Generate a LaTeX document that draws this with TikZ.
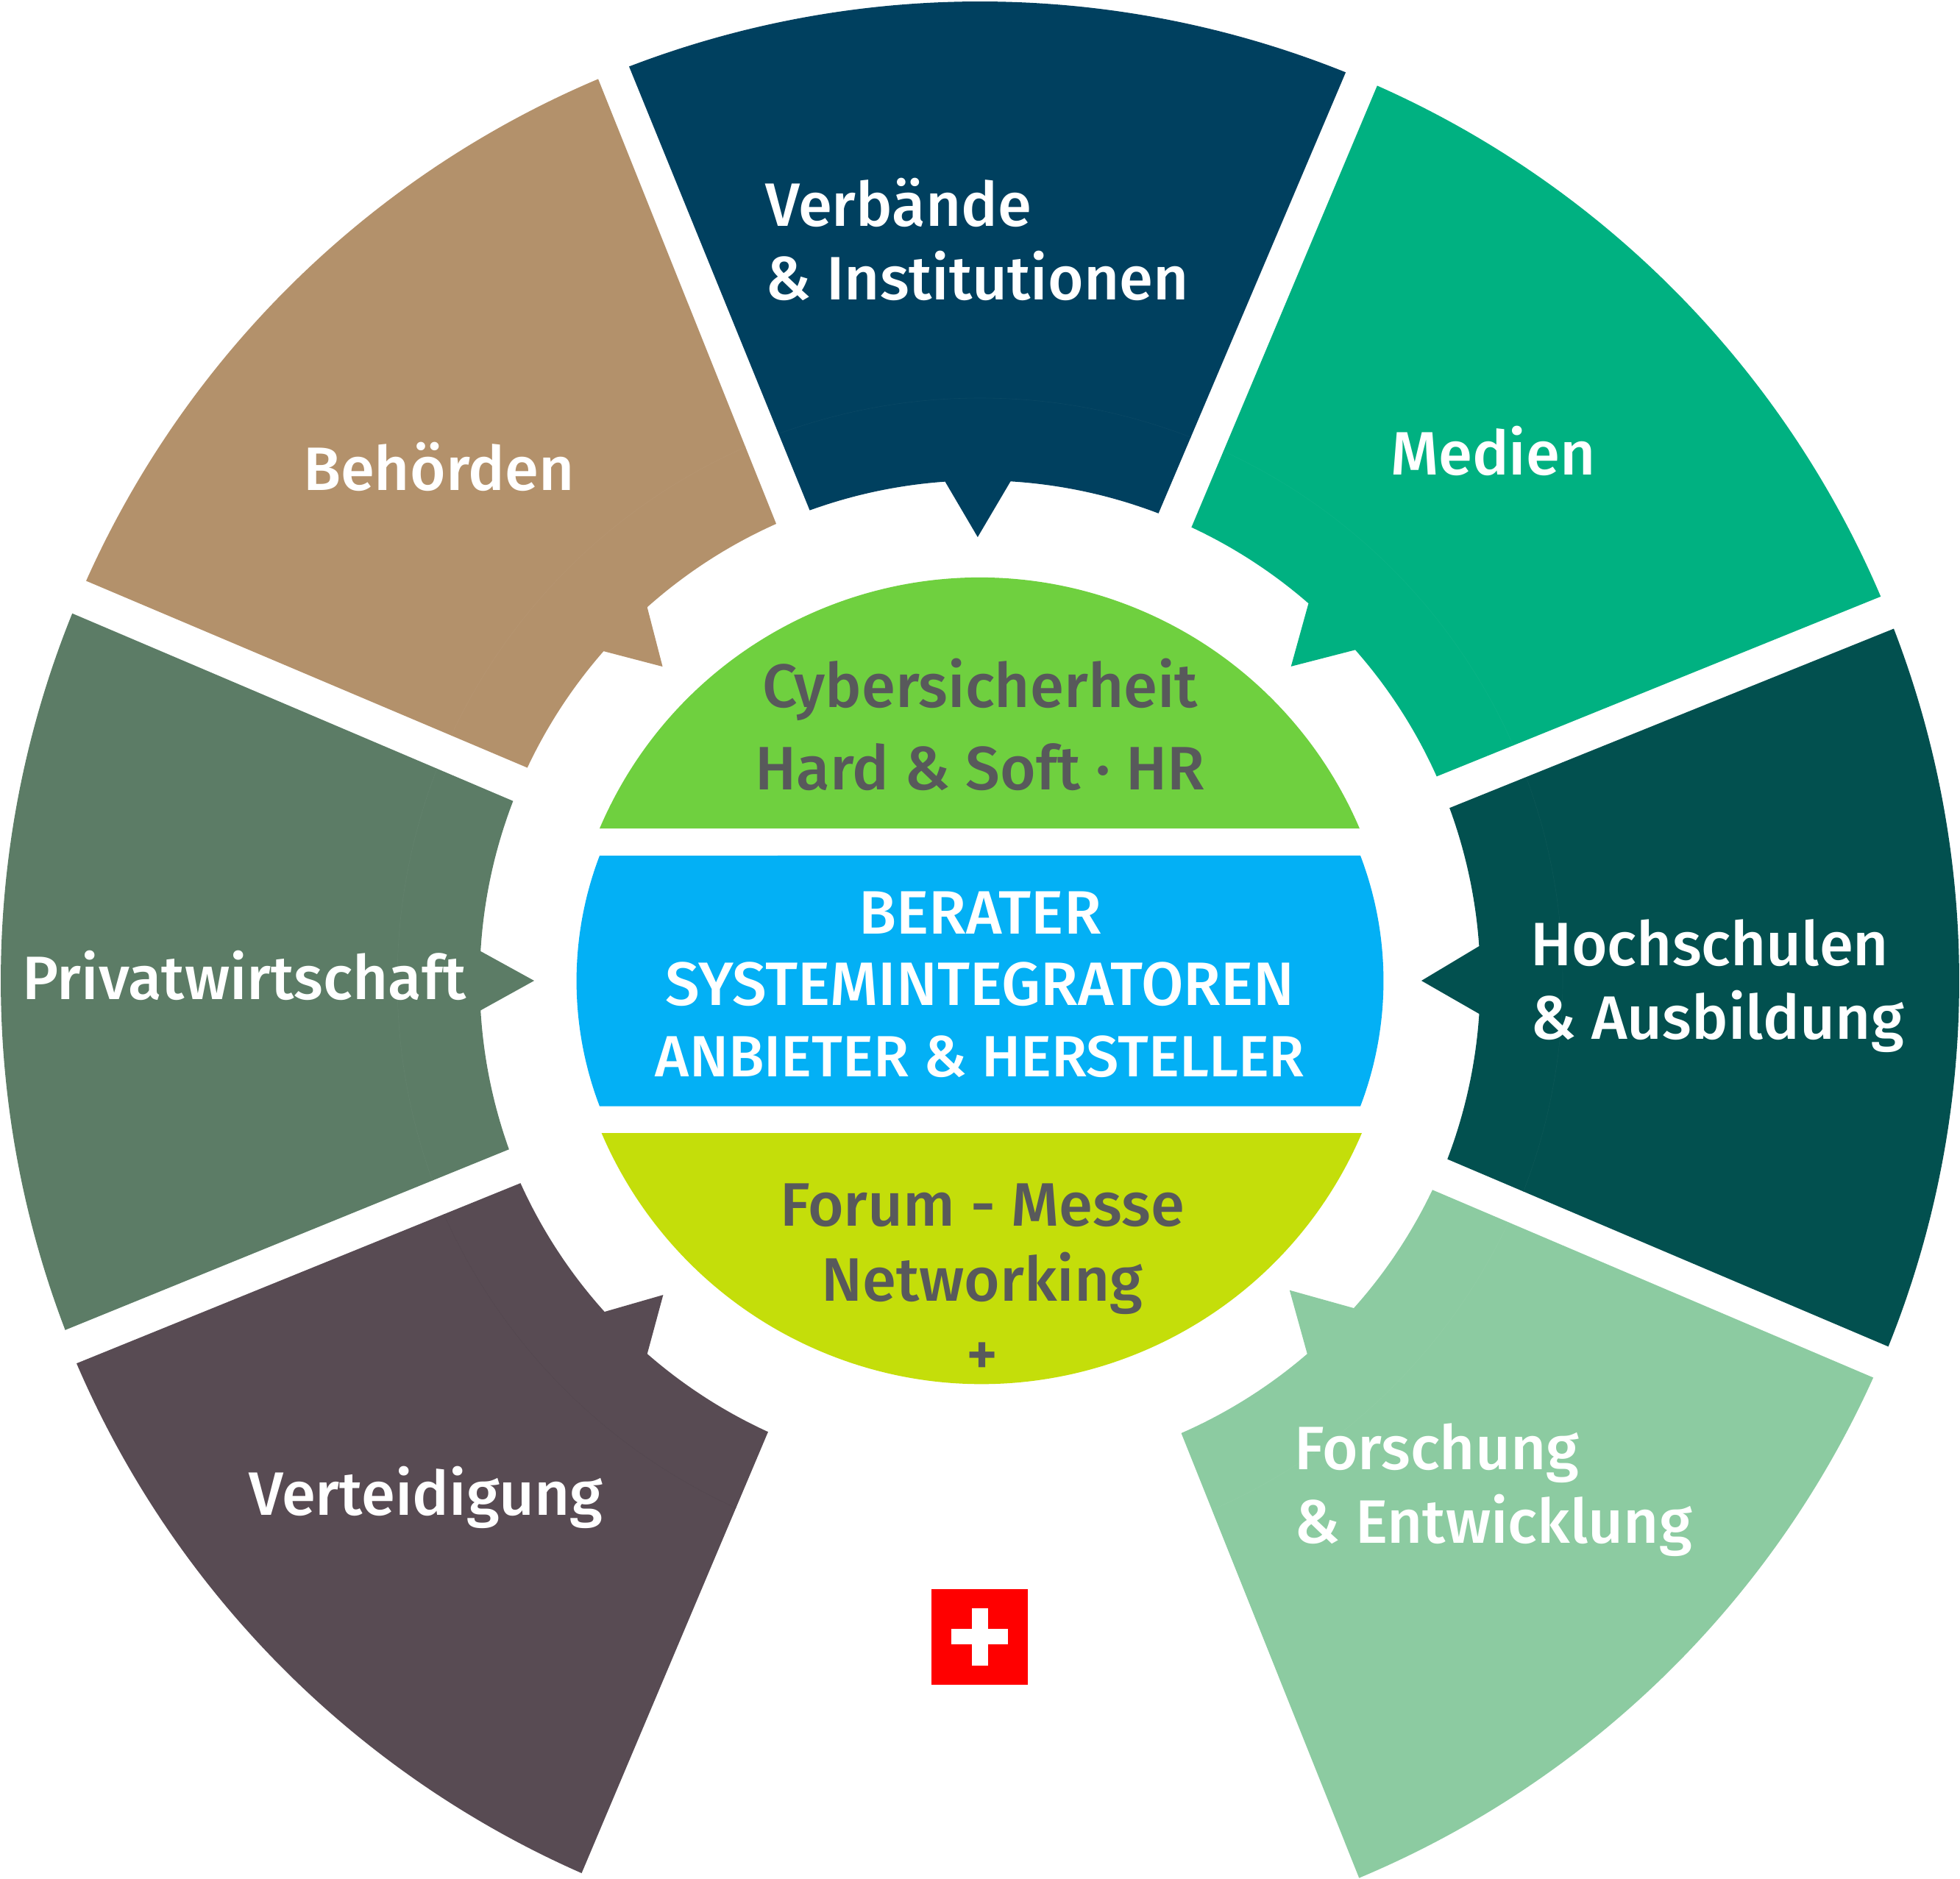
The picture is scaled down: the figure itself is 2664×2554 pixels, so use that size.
\documentclass[tikz,border=0pt]{standalone}
\usepackage{fontspec}
\setmainfont{Fira Sans Medium}
\definecolor{navy}{HTML}{00405F}
\definecolor{tealg}{HTML}{00B181}
\definecolor{tan}{HTML}{B3916B}
\definecolor{sage}{HTML}{5C7C66}
\definecolor{dteal}{HTML}{02504F}
\definecolor{mint}{HTML}{8CCBA1}
\definecolor{plum}{HTML}{584B53}
\definecolor{lgreen}{HTML}{6FD03F}
\definecolor{lyellow}{HTML}{C4DE0A}
\definecolor{sky}{HTML}{03B0F5}
\definecolor{tgrey}{HTML}{58595B}
\tikzset{
  wlabel/.style={anchor=base west,inner sep=0pt,text=white,align=left,font=\fontsize{83.3}{100}\selectfont},
  glabel/.style={anchor=base,inner sep=0pt,text=tgrey,font=\fontsize{83.4}{100}\selectfont},
  blabel/.style={anchor=base,inner sep=0pt,text=white,font=\fontsize{83.3}{98}\selectfont}
}
\def\arctint{white}
% colour, a1, a2, i1, i2, n1, n2, tip angle, tip radius
\newcommand\sectshape[9]{%
  \def\sectpath{(#2:1331) arc[start angle=#2,end angle=#3,radius=1331]
    -- (#5:680) arc[start angle=#5,end angle=#7,radius=680]
    -- (#8:#9) -- (#6:680) arc[start angle=#6,end angle=#4,radius=680] -- cycle}
  \fill[#1] \sectpath;
  \begin{scope}
    \clip \sectpath;
    \draw[#1!96!\arctint,line width=0.6pt] (0,0) circle[radius=792];
  \end{scope}}
\begin{document}
\begin{tikzpicture}[x=1pt,y=1pt]
\useasboundingbox (0,0) rectangle (2664,-2554);
\begin{scope}[shift={(1332,-1333)}]
  \sectshape{navy}{111.0}{68.07}{109.9}{69.1}{94}{86.5}{90.3}{603}
  \sectshape{tan}{155.9}{112.95}{154.8}{114.04}{138.8}{131.7}{135.3}{607}
  \sectshape{tealg}{66.07}{23.1}{65}{24.1}{48.96}{41.4}{45.3}{601}
  \sectshape{dteal}{21.07}{-21.94}{20.2}{-20.9}{3.96}{-3.8}{0}{600}
  \sectshape{sage}{200.9}{157.97}{199.7}{158.95}{183.4}{176.62}{180}{606}
\end{scope}
\begin{scope}[shift={(1333,-1325)}]
  \sectshape{mint}{-24.29}{-67.27}{-25.46}{-66.37}{-41.78}{-49.26}{-45.6}{600}
\end{scope}
\begin{scope}[shift={(1327,-1328)}]
  \def\arctint{black}
  \sectshape{plum}{246.23}{203.24}{245.4}{204.33}{228.87}{222.0}{225.43}{606.5}
\end{scope}
% centre pieces
\fill[lgreen] (815,-1126) arc[start angle=156.87,end angle=23.13,radius=561.6] -- cycle;
\fill[sky] (815,-1163) arc[start angle=159.1,end angle=200.9,radius=477.5] -- (1849,-1503.6)
   arc[start angle=-20.9,end angle=20.9,radius=477.5] -- cycle;
\fill[lyellow] (1851,-1540) arc[start angle=-23.13,end angle=-156.87,radius=561.9] -- cycle;
% flag
\fill[red] (1266,-2160) rectangle (1397,-2290);
\fill[white] (1321,-2186) rectangle (1343,-2263.5);
\fill[white] (1293,-2213.5) rectangle (1370,-2235);
% labels
\node[wlabel] (verb) at (1040,-407) {Verbände\\\& Institutionen};
\node[wlabel] (beh) at (412,-666) {Behörden};
\node[wlabel] (med) at (1890,-645) {Medien};
\node[wlabel] (hoch) at (2080,-1412) {Hochschulen\\\& Ausbildung};
\node[wlabel] (priv) at (30,-1358) {Privatwirtschaft};
\node[wlabel] (vert) at (338,-2059) {Verteidigung};
\node[wlabel] (fors) at (1759,-2097) {Forschung\\\& Entwicklung};
\node[glabel] (cyb) at (1332,-961) {Cybersicherheit};
\node[glabel] (hard) at (1332,-1073) {Hard \& Soft · HR};
\node[blabel] (ber) at (1332,-1269) {BERATER};
\node[blabel] (sys) at (1332,-1366) {SYSTEMINTEGRATOREN};
\node[blabel,font=\fontsize{79}{98}\selectfont] (anb) at (1332,-1463) {ANBIETER \& HERSTELLER};
\node[glabel] (for) at (1335,-1666.5) {Forum - Messe};
\node[glabel] (net) at (1335,-1768.6) {Networking};
\node[glabel] (plus) at (1335,-1869) {+};
\end{tikzpicture}
\end{document}
